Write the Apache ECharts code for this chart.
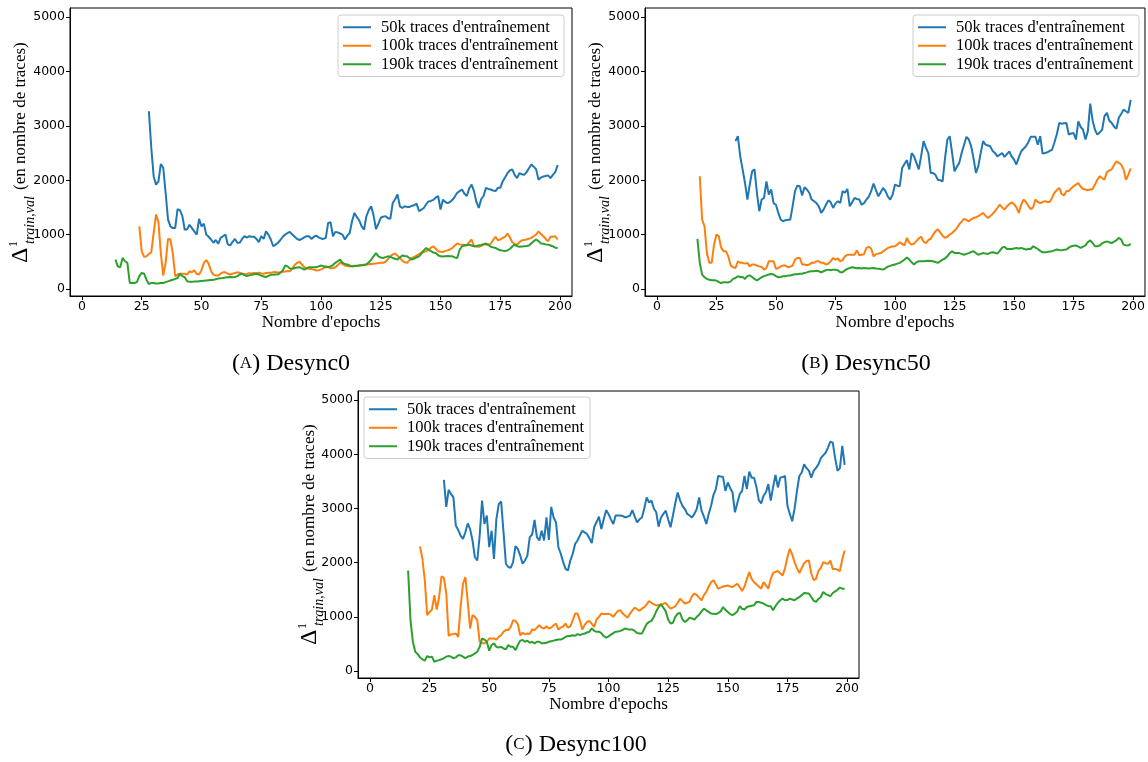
<!DOCTYPE html>
<html>
<head>
<meta charset="utf-8">
<title>Delta train/val - Desync</title>
<script src="https://cdn.jsdelivr.net/npm/echarts@6/dist/echarts.min.js"></script>
<style>
  html, body { margin: 0; padding: 0; background: #fff; }
  #chart { width: 1148px; height: 762px; }
</style>
</head>
<body>
<div id="chart"></div>
<script>
// legend names and tick labels
const seriesNames = ["50k traces d'entraînement", "100k traces d'entraînement", "190k traces d'entraînement"];
const xTicks = [0, 25, 50, 75, 100, 125, 150, 175, 200];
const yTicks = [0, 1000, 2000, 3000, 4000, 5000];

// (A) Desync0 - one value per epoch, from the start epoch
const a50Start = 28;
const a50 = [3270, 2600, 2070, 1920, 1980, 2300, 2230, 1770, 1280, 1150,
  1120, 1120, 1470, 1450, 1340, 1090, 1100, 1180, 1120, 1060,
  1000, 1290, 1150, 1200, 1000, 960, 910, 850, 900, 830,
  940, 970, 1000, 820, 800, 865, 920, 850, 850, 920,
  970, 945, 970, 960, 960, 920, 860, 970, 920, 1060,
  1000, 910, 785, 815, 850, 900, 960, 1000, 1030, 1050,
  1000, 960, 920, 900, 920, 950, 970, 970, 920, 960,
  980, 950, 930, 920, 940, 1215, 1227, 970, 1050, 1040,
  1020, 1000, 910, 980, 1030, 1250, 1400, 1320, 1260, 1150,
  1090, 1340, 1450, 1520, 1350, 1100, 1200, 1310, 1330, 1340,
  1300, 1290, 1580, 1650, 1740, 1520, 1490, 1520, 1510, 1510,
  1530, 1540, 1570, 1430, 1460, 1490, 1560, 1610, 1620, 1640,
  1680, 1710, 1460, 1640, 1600, 1580, 1600, 1640, 1700, 1770,
  1800, 1830, 1750, 1710, 1850, 1920, 1800, 1600, 1490, 1650,
  1710, 1860, 1840, 1830, 1810, 1800, 1860, 1860, 1980, 2050,
  2130, 2180, 2200, 2100, 2040, 2130, 2110, 2100, 2150, 2220,
  2290, 2250, 2200, 2010, 2050, 2070, 2080, 2090, 2040, 2100,
  2150, 2280];
const a100Start = 24;
const a100 = [1150, 690, 590, 600, 645, 675, 1030, 1370, 1230, 660,
  245, 480, 920, 910, 660, 235, 265, 280, 280, 280,
  265, 325, 305, 345, 275, 265, 345, 480, 530, 465,
  325, 265, 245, 245, 280, 305, 305, 280, 265, 280,
  295, 305, 300, 280, 270, 275, 290, 285, 295, 290,
  300, 285, 280, 295, 300, 300, 305, 310, 300, 305,
  315, 320, 330, 325, 380, 440, 480, 500, 450, 400,
  385, 370, 365, 355, 340, 345, 360, 380, 420, 400,
  380, 385, 400, 440, 480, 460, 430, 420, 415, 420,
  425, 420, 430, 440, 445, 450, 455, 460, 465, 470,
  475, 480, 480, 500, 550, 600, 640, 650, 610, 570,
  520, 490, 480, 530, 570, 590, 615, 640, 670, 680,
  695, 720, 760, 785, 740, 695, 685, 680, 700, 710,
  730, 755, 800, 835, 820, 815, 810, 800, 860, 910,
  785, 780, 775, 790, 815, 820, 815, 830, 900, 960,
  895, 910, 940, 960, 1020, 950, 860, 830, 815, 860,
  895, 900, 910, 925, 940, 970, 1000, 1060, 1010, 970,
  920, 875, 960, 960, 970, 910];
const a190Start = 14;
const a190 = [540, 415, 400, 570, 510, 480, 110, 110, 110, 125,
  235, 295, 280, 170, 90, 110, 110, 100, 100, 110,
  110, 125, 140, 155, 170, 185, 200, 280, 235, 215,
  140, 130, 130, 135, 135, 140, 145, 150, 155, 160,
  165, 170, 180, 190, 195, 200, 210, 215, 220, 215,
  220, 235, 265, 280, 255, 235, 250, 260, 270, 280,
  265, 245, 230, 220, 240, 260, 262, 265, 268, 300,
  340, 430, 415, 375, 370, 385, 395, 400, 380, 355,
  380, 400, 400, 398, 400, 415, 430, 420, 400, 405,
  415, 440, 480, 510, 540, 480, 460, 450, 430, 415,
  420, 425, 430, 435, 440, 450, 490, 540, 600, 660,
  600, 580, 570, 585, 600, 590, 570, 555, 540, 580,
  615, 605, 600, 570, 540, 560, 580, 600, 650, 710,
  755, 720, 695, 670, 660, 620, 600, 595, 600, 605,
  600, 600, 580, 570, 720, 785, 800, 810, 815, 800,
  785, 790, 800, 810, 825, 835, 810, 775, 765, 755,
  730, 710, 705, 695, 710, 735, 780, 815, 790, 775,
  780, 785, 790, 800, 840, 880, 910, 880, 835, 830,
  820, 815, 800, 785, 760, 755];

// (B) Desync50
const b50Start = 33;
const b50 = [2720, 2810, 2440, 2200, 1950, 1645, 1920, 2165, 2200, 1770,
  1430, 1645, 1675, 1980, 1735, 1830, 1580, 1550, 1400, 1275,
  1245, 1265, 1275, 1275, 1520, 1800, 1900, 1890, 1720, 1870,
  1830, 1770, 1645, 1615, 1580, 1520, 1400, 1460, 1550, 1630,
  1595, 1490, 1570, 1615, 1580, 1800, 1770, 1840, 1520, 1595,
  1675, 1655, 1645, 1550, 1580, 1645, 1700, 1800, 1940, 1820,
  1705, 1780, 1860, 1800, 1700, 1645, 1735, 1920, 1900, 1890,
  2225, 2300, 2370, 2200, 2500, 2440, 2320, 2200, 2450, 2720,
  2600, 2500, 2135, 2135, 2100, 2010, 2000, 1980, 2400, 2750,
  2810, 2500, 2165, 2250, 2320, 2500, 2650, 2800, 2750, 2625,
  2400, 2135, 2260, 2500, 2720, 2655, 2640, 2625, 2540, 2500,
  2440, 2470, 2500, 2430, 2480, 2530, 2440, 2380, 2290, 2420,
  2530, 2580, 2625, 2700, 2800, 2800, 2800, 2655, 2810, 2490,
  2500, 2515, 2540, 2565, 2700, 2850, 3055, 3040, 3050, 3055,
  2840, 2860, 2870, 2750, 3085, 2980, 2930, 2750, 2900, 3410,
  3100, 2930, 2840, 2880, 2930, 3180, 3240, 3100, 3055, 2990,
  2945, 3150, 3220, 3300, 3270, 3240, 3480];
const b100Start = 18;
const b100 = [2075, 1275, 1150, 660, 480, 480, 815, 1000, 970, 755,
  695, 695, 600, 430, 400, 385, 510, 480, 480, 465,
  480, 415, 450, 450, 430, 415, 405, 355, 385, 510,
  510, 510, 370, 385, 415, 430, 430, 400, 410, 430,
  540, 570, 570, 450, 450, 435, 450, 480, 480, 510,
  510, 480, 480, 450, 465, 510, 570, 540, 560, 510,
  530, 600, 630, 630, 630, 630, 710, 620, 630, 640,
  755, 775, 740, 600, 640, 650, 660, 690, 720, 755,
  770, 780, 785, 815, 860, 830, 800, 940, 850, 815,
  835, 880, 930, 960, 870, 845, 900, 920, 1000, 1060,
  1100, 1040, 980, 940, 960, 1000, 1030, 1070, 1120, 1190,
  1240, 1290, 1270, 1245, 1280, 1305, 1320, 1340, 1370, 1400,
  1350, 1305, 1340, 1380, 1430, 1490, 1550, 1500, 1460, 1520,
  1560, 1595, 1560, 1500, 1400, 1550, 1645, 1600, 1530, 1470,
  1500, 1645, 1600, 1580, 1600, 1615, 1600, 1600, 1680, 1770,
  1820, 1860, 1750, 1720, 1800, 1800, 1850, 1890, 1920, 1950,
  1880, 1840, 1830, 1815, 1830, 1840, 1920, 2010, 2075, 2040,
  2010, 2150, 2180, 2200, 2280, 2350, 2320, 2290, 2200, 2010,
  2100, 2220];
const b190Start = 17;
const b190 = [920, 480, 265, 215, 185, 170, 160, 160, 155, 125,
  110, 125, 125, 120, 140, 185, 200, 235, 220, 220,
  185, 235, 250, 220, 185, 155, 185, 215, 235, 250,
  265, 275, 265, 235, 215, 220, 235, 235, 245, 245,
  260, 270, 270, 280, 280, 295, 305, 320, 325, 325,
  335, 325, 305, 325, 345, 355, 345, 355, 355, 345,
  305, 305, 345, 370, 385, 400, 390, 380, 385, 375,
  385, 380, 375, 380, 385, 375, 370, 365, 355, 380,
  410, 425, 440, 450, 465, 480, 510, 540, 580, 540,
  490, 450, 490, 510, 510, 510, 515, 520, 515, 510,
  495, 480, 510, 540, 560, 600, 660, 695, 660, 660,
  660, 645, 630, 645, 660, 680, 695, 660, 630, 645,
  660, 650, 645, 665, 675, 665, 650, 700, 760, 775,
  735, 735, 735, 745, 755, 745, 755, 740, 725, 735,
  735, 785, 760, 735, 700, 675, 675, 680, 690, 695,
  710, 725, 715, 710, 720, 725, 760, 785, 795, 800,
  780, 755, 780, 800, 860, 895, 845, 785, 785, 800,
  840, 860, 875, 860, 845, 870, 895, 940, 910, 815,
  805, 800, 830];

// (C) Desync100
const c50Start = 31;
const c50 = [3530, 3030, 3345, 3265, 3205, 2685, 2605, 2500, 2440, 2560,
  2725, 2620, 2410, 2100, 2040, 2500, 3145, 2715, 2870, 2285,
  2590, 2070, 2805, 3080, 3130, 2560, 1980, 1920, 1905, 2010,
  2305, 2255, 2130, 1980, 2040, 2130, 2470, 2520, 2790, 2470,
  2410, 2590, 2410, 2835, 2420, 3030, 2835, 2745, 2285, 2165,
  2010, 1885, 1855, 2040, 2165, 2345, 2410, 2500, 2590, 2560,
  2530, 2450, 2360, 2655, 2750, 2850, 2620, 2800, 2970, 2900,
  2800, 2715, 2870, 2870, 2870, 2860, 2835, 2850, 2870, 2970,
  2850, 2745, 2800, 2835, 3000, 3205, 3110, 3145, 3000, 2930,
  2665, 2835, 2900, 2960, 2800, 2655, 2870, 3100, 3295, 3150,
  3050, 2990, 2900, 2870, 2835, 2900, 2990, 3205, 2960, 2850,
  2715, 2900, 3050, 3250, 3360, 3600, 3590, 3585, 3325, 3480,
  3380, 3295, 2930, 3100, 3265, 3325, 3600, 3360, 3680, 3570,
  3570, 3400, 3155, 3095, 3235, 3300, 3450, 3145, 3400, 3620,
  3390, 3570, 3580, 3600, 3050, 2900, 2765, 3000, 3325, 3600,
  3665, 3815, 3745, 3700, 3570, 3695, 3750, 3815, 3930, 3980,
  4030, 4125, 4235, 4215, 3930, 3695, 3745, 4155, 3805];
const c100Start = 21;
const c100 = [2300, 2070, 1675, 1030, 1090, 1135, 1400, 1135, 1365, 1745,
  1720, 1430, 645, 680, 680, 690, 630, 1180, 1610, 1735,
  1275, 785, 1030, 1000, 935, 540, 510, 510, 540, 600,
  600, 600, 580, 630, 660, 725, 755, 755, 815, 935,
  925, 865, 660, 705, 680, 690, 680, 765, 755, 800,
  845, 800, 785, 825, 785, 800, 845, 875, 765, 800,
  825, 875, 800, 825, 935, 1060, 1060, 935, 765, 850,
  905, 925, 870, 815, 950, 1000, 1060, 1050, 1050, 1055,
  1040, 1000, 1060, 1110, 1120, 1060, 1020, 985, 1060, 1120,
  1170, 1140, 1110, 1150, 1180, 1230, 1290, 1260, 1230, 1210,
  1220, 1230, 1240, 1255, 1200, 1150, 1170, 1195, 1260, 1335,
  1290, 1245, 1260, 1275, 1380, 1430, 1400, 1350, 1305, 1400,
  1460, 1560, 1640, 1675, 1600, 1520, 1540, 1560, 1570, 1580,
  1560, 1550, 1580, 1610, 1550, 1475, 1560, 1700, 1825, 1700,
  1640, 1600, 1560, 1520, 1640, 1580, 1520, 1700, 1810, 1830,
  1845, 1800, 1765, 1900, 2100, 2255, 2150, 2010, 1900, 1810,
  1900, 1990, 2030, 2040, 1800, 1675, 1705, 1850, 1905, 2010,
  1990, 1980, 2040, 1885, 1885, 1870, 1845, 2070, 2225];
const c190Start = 16;
const c190 = [1855, 940, 540, 355, 310, 250, 215, 190, 275, 250,
  265, 170, 190, 200, 215, 235, 265, 275, 265, 235,
  250, 290, 290, 265, 235, 265, 275, 295, 325, 355,
  445, 600, 580, 540, 375, 480, 510, 445, 435, 445,
  415, 400, 480, 445, 445, 385, 480, 560, 570, 540,
  560, 520, 540, 510, 540, 540, 510, 510, 520, 540,
  550, 560, 570, 580, 580, 600, 630, 645, 645, 660,
  650, 680, 665, 680, 690, 710, 725, 785, 740, 725,
  725, 700, 645, 615, 640, 670, 700, 725, 730, 740,
  760, 785, 770, 765, 765, 740, 700, 690, 690, 780,
  870, 905, 925, 1000, 1100, 1180, 1230, 1170, 1100, 950,
  875, 890, 1000, 1060, 1070, 950, 905, 935, 985, 970,
  950, 1000, 1040, 1100, 1150, 1120, 1090, 1060, 1055, 1050,
  1070, 1100, 1180, 1130, 1090, 1050, 1030, 1060, 1100, 1195,
  1150, 1135, 1180, 1195, 1205, 1215, 1275, 1275, 1260, 1245,
  1215, 1200, 1195, 1120, 1200, 1260, 1305, 1335, 1305, 1310,
  1335, 1320, 1305, 1340, 1365, 1400, 1440, 1435, 1430, 1365,
  1300, 1275, 1330, 1365, 1460, 1420, 1400, 1380, 1440, 1470,
  1500, 1540, 1520, 1520];

const colors = ['#1f77b4', '#ff7f0e', '#2ca02c'];
const serif = '"Liberation Serif", "Times New Roman", serif';

function pairs(start, vals) {
  return vals.map((v, i) => [start + i, v]);
}

// plot rectangles (pixels) of the three panels
const panels = [
  { grid: { left: 70, top: 8, width: 502, height: 288 }, legend: { left: 338, top: 15 }, ylab: [21, 152],
    caption: ['A', 'Desync0', 291, 364],
    data: [pairs(a50Start, a50), pairs(a100Start, a100), pairs(a190Start, a190)] },
  { grid: { left: 645, top: 8, width: 502, height: 288 }, legend: { left: 913, top: 15 }, ylab: [596, 152],
    caption: ['B', 'Desync50', 866, 364],
    data: [pairs(b50Start, b50), pairs(b100Start, b100), pairs(b190Start, b190)] },
  { grid: { left: 358, top: 391, width: 501, height: 287 }, legend: { left: 364, top: 397 }, ylab: [310, 534],
    caption: ['C', 'Desync100', 576, 745],
    data: [pairs(c50Start, c50), pairs(c100Start, c100), pairs(c190Start, c190)] }
];

const grids = [], xAxes = [], yAxes = [], series = [], legends = [], graphics = [];
const plain = v => String(v);

panels.forEach((p, i) => {
  grids.push(Object.assign({ show: true, borderColor: '#000', borderWidth: 1, backgroundColor: 'transparent' }, p.grid));
  xAxes.push({
    type: 'value', gridIndex: i, min: -5, max: 205,
    splitLine: { show: false },
    axisLine: { show: true, onZero: false, lineStyle: { color: '#000', width: 1 } },
    axisTick: { show: true, length: 4, customValues: xTicks, lineStyle: { color: '#000' } },
    axisLabel: { customValues: xTicks, formatter: plain, margin: 4, color: '#000', fontFamily: 'DejaVu Sans', fontSize: 12.5 },
    name: "Nombre d'epochs", nameLocation: 'middle', nameGap: 18,
    nameTextStyle: { fontFamily: serif, fontSize: 17, color: '#000' }
  });
  yAxes.push({
    type: 'value', gridIndex: i, min: -130, max: 5170,
    splitLine: { show: false },
    axisLine: { show: true, onZero: false, lineStyle: { color: '#000', width: 1 } },
    axisTick: { show: true, length: 4, customValues: yTicks, lineStyle: { color: '#000' } },
    axisLabel: { customValues: yTicks, formatter: plain, margin: 5, color: '#000', fontFamily: 'DejaVu Sans', fontSize: 12.5 }
  });
  p.data.forEach((d, k) => {
    series.push({
      type: 'line', name: seriesNames[k], xAxisIndex: i, yAxisIndex: i,
      data: d, showSymbol: false, symbol: 'none', color: colors[k],
      lineStyle: { width: 2, color: colors[k] }, animation: false
    });
  });
  legends.push({
    left: p.legend.left, top: p.legend.top, orient: 'vertical', data: seriesNames,
    icon: 'rect', itemWidth: 28, itemHeight: 2, itemGap: 0, selectedMode: false,
    padding: [3, 6, 3, 5], borderColor: '#cccccc', borderWidth: 1, borderRadius: 3,
    backgroundColor: 'rgba(255,255,255,0.8)',
    textStyle: { fontFamily: serif, fontSize: 16.5, lineHeight: 18.5, color: '#000', padding: [0, 0, 0, 5] }
  });

  // y axis title, rotated
  const t = (text, x, y, font) => ({
    type: 'text', x: x, y: y,
    style: { text: text, font: font, fill: '#000', align: 'left', verticalAlign: 'middle',
      textAlign: 'left', textVerticalAlign: 'middle' }
  });
  graphics.push({
    type: 'group', x: p.ylab[0], y: p.ylab[1], rotation: Math.PI / 2,
    children: [
      t('Δ', -111, 0, '24px ' + serif),
      t('1', -95, -7, '12px ' + serif),
      t('train,val', -92, 9, 'italic 14px ' + serif),
      t('(en nombre de traces)', -38, 0, '17px ' + serif)
    ]
  });

  // sub-figure caption
  graphics.push({
    type: 'text', x: p.caption[2], y: p.caption[3],
    style: {
      text: '{p|(}{s|' + p.caption[0] + '}{p|) ' + p.caption[1] + '}',
      align: 'center', verticalAlign: 'middle', textAlign: 'center', textVerticalAlign: 'middle',
      rich: {
        p: { fontFamily: serif, fontSize: 24, fill: '#000', color: '#000' },
        s: { fontFamily: serif, fontSize: 17, fill: '#000', color: '#000' }
      }
    }
  });
});

const chart = echarts.init(document.getElementById('chart'), null, { renderer: 'canvas' });
chart.setOption({
  animation: false,
  backgroundColor: '#fff',
  grid: grids,
  xAxis: xAxes,
  yAxis: yAxes,
  legend: legends,
  series: series,
  graphic: graphics
});
</script>
</body>
</html>
